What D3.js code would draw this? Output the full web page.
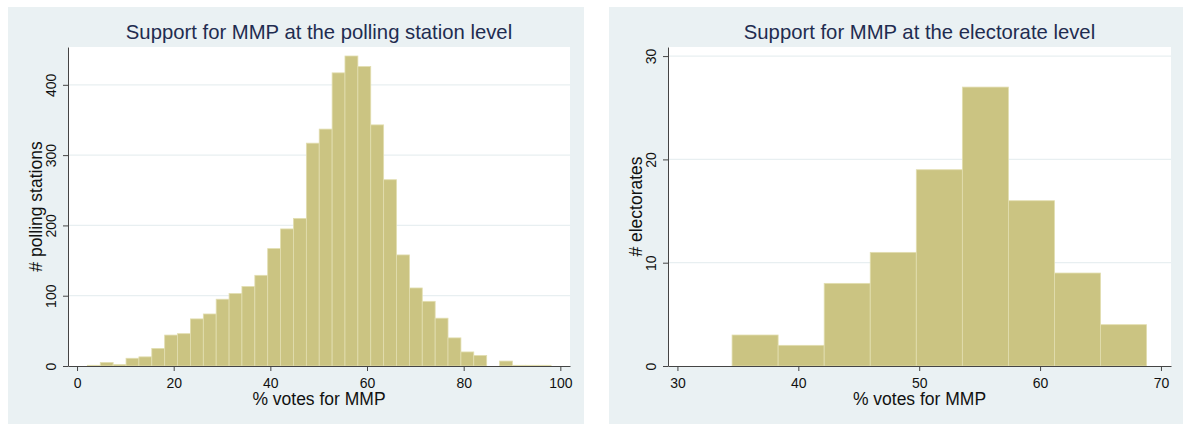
<!DOCTYPE html>
<html>
<head>
<meta charset="utf-8">
<script src="https://cdn.jsdelivr.net/npm/d3@7"></script>
<style>
  body { margin: 0; background: #ffffff; }
  text { font-family: "Liberation Sans", Arial, Helvetica, sans-serif; }
</style>
</head>
<body>
<div id="chart"></div>
<script>
    // datos: histograma por mesa electoral (polling station)
    var stationEdges = [2.14, 4.81, 7.47, 10.14, 12.80, 15.47, 18.13, 20.80, 23.46, 26.13,
                        28.79, 31.46, 34.12, 36.79, 39.45, 42.12, 44.78, 47.45, 50.11, 52.78,
                        55.44, 58.11, 60.77, 63.44, 66.10, 68.77, 71.43, 74.10, 76.76, 79.43,
                        82.09, 84.76, 87.42, 90.09, 92.75, 95.42, 98.08];
    var stationCounts = [1, 5, 2, 11, 13, 25, 44, 46, 67, 74,
                         95, 103, 113, 129, 167, 195, 210, 317, 337, 417,
                         441, 426, 343, 265, 158, 111, 92, 68, 40, 20,
                         15, 0, 7, 1, 1, 1];
    var stationXTicks = [0, 20, 40, 60, 80, 100];
    var stationYTicks = [0, 100, 200, 300, 400];

    // datos: histograma por distrito (electorate)
    var electorateEdges = [34.52, 38.33, 42.14, 45.95, 49.76, 53.57, 57.38, 61.19, 65.00, 68.81];
    var electorateCounts = [3, 2, 8, 11, 19, 27, 16, 9, 4];
    var electorateXTicks = [30, 40, 50, 60, 70];
    var electorateYTicks = [0, 10, 20, 30];

    var W = 1183, H = 424;

    var svg = d3.select("#chart")
      .append("svg")
        .attr("width", W)
        .attr("height", H);

    function drawPanel(p) {
      var g = svg.append("g");

      // fondo del panel
      g.append("rect")
        .attr("x", p.px).attr("y", 7)
        .attr("width", p.pw).attr("height", H - 7)
        .attr("fill", "#eaf1f3");

      // area del grafico
      g.append("rect")
        .attr("x", p.left).attr("y", p.top)
        .attr("width", p.right - p.left).attr("height", p.bottom - p.top)
        .attr("fill", "#ffffff");

      var x = d3.scaleLinear().domain(p.xDomain).range([p.left, p.right]);
      var y = d3.scaleLinear().domain(p.yDomain).range([p.bottom, p.top]);

      // lineas de cuadricula
      g.selectAll("grid")
        .data(p.yTicks.filter(function(d) { return d > 0; }))
        .enter()
        .append("line")
          .attr("x1", p.left + 1)
          .attr("x2", p.right)
          .attr("y1", function(d) { return y(d); })
          .attr("y2", function(d) { return y(d); })
          .attr("stroke", "#e8eff1")
          .attr("stroke-width", 1.2);

      // barras
      g.selectAll("bar")
        .data(p.counts)
        .enter()
        .append("rect")
          .attr("x", function(d, i) { return x(p.edges[i]); })
          .attr("width", function(d, i) { return x(p.edges[i + 1]) - x(p.edges[i]); })
          .attr("y", function(d) { return y(d); })
          .attr("height", function(d) { return y(0) - y(d); })
          .attr("fill", "#cbc482")
          .attr("stroke", "#e2deb0")
          .attr("stroke-width", 0.8);

      // eje x
      var gx = g.append("g")
        .attr("transform", "translate(0," + p.bottom + ")")
        .call(d3.axisBottom(x).tickValues(p.xTicks).tickSize(5).tickSizeOuter(0).tickPadding(7));
      gx.select(".domain").attr("stroke", "#444");
      gx.selectAll(".tick line").attr("stroke", "#444");
      gx.selectAll(".tick text")
        .attr("fill", "#111")
        .style("font-size", "14px");

      // eje y
      var gy = g.append("g")
        .attr("transform", "translate(" + p.left + ",0)")
        .call(d3.axisLeft(y).tickValues(p.yTicks).tickSize(5).tickSizeOuter(0));
      gy.select(".domain").attr("stroke", "#444");
      gy.selectAll(".tick line").attr("stroke", "#444");
      gy.selectAll(".tick text")
        .attr("fill", "#111")
        .attr("transform", "rotate(-90)")
        .attr("x", 0)
        .attr("y", -12)
        .attr("dy", 0)
        .style("text-anchor", "middle")
        .style("font-size", "14px");

      // titulos
      g.append("text")
        .attr("x", (p.left + p.right) / 2)
        .attr("y", 39)
        .style("text-anchor", "middle")
        .style("font-size", "20.3px")
        .attr("fill", "#1f2c50")
        .text(p.title);

      g.append("text")
        .attr("x", (p.left + p.right) / 2)
        .attr("y", 405)
        .style("text-anchor", "middle")
        .style("font-size", "17.5px")
        .attr("fill", "#111")
        .text("% votes for MMP");

      g.append("text")
        .attr("transform", "rotate(-90)")
        .attr("x", -(p.top + p.bottom) / 2)
        .attr("y", p.left - 26)
        .style("text-anchor", "middle")
        .style("font-size", "17.5px")
        .attr("fill", "#111")
        .text(p.yTitle);
    }

    drawPanel({
      px: 8, pw: 576,
      left: 68, right: 570, top: 47, bottom: 366,
      xDomain: [-1.87, 102.0], yDomain: [0, 453.8],
      edges: stationEdges, counts: stationCounts,
      xTicks: stationXTicks, yTicks: stationYTicks,
      title: "Support for MMP at the polling station level",
      yTitle: "# polling stations"
    });

    drawPanel({
      px: 609, pw: W - 609,
      left: 668, right: 1171, top: 47, bottom: 366,
      xDomain: [29.22, 70.83], yDomain: [0, 30.88],
      edges: electorateEdges, counts: electorateCounts,
      xTicks: electorateXTicks, yTicks: electorateYTicks,
      title: "Support for MMP at the electorate level",
      yTitle: "# electorates"
    });
</script>
</body>
</html>
